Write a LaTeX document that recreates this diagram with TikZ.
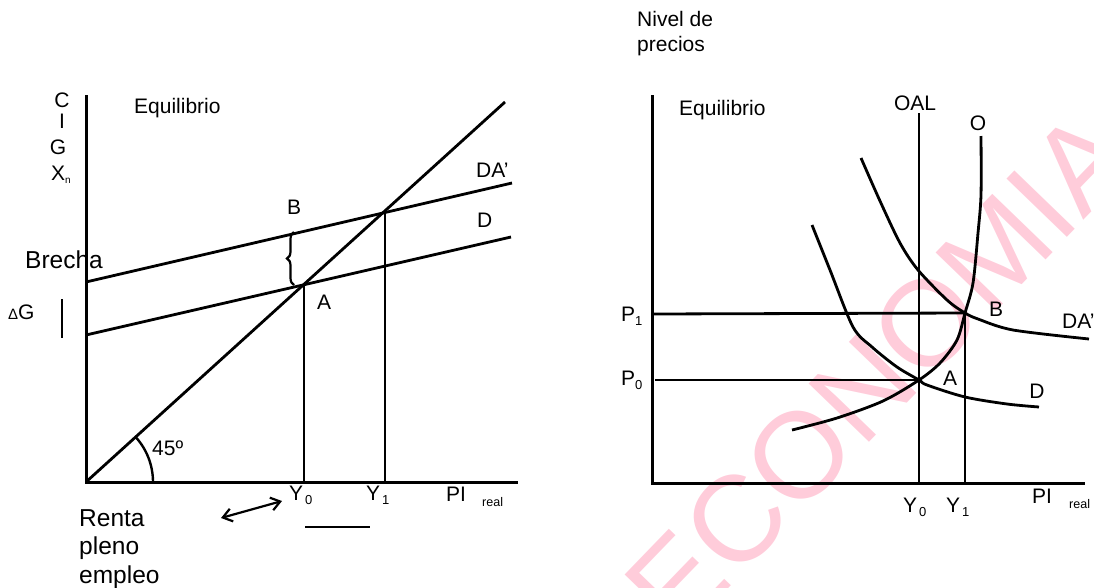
\documentclass[tikz,border=0pt]{standalone}
\usepackage{fontspec}
\setmainfont{Liberation Sans}
\usetikzlibrary{arrows.meta,decorations.pathreplacing}
\definecolor{wmpink}{RGB}{255,204,218}
\newcommand\sbx[1]{\raisebox{-0.35ex}{\fontsize{13}{13}\selectfont #1}}
\begin{document}
\begin{tikzpicture}[x=1pt,y=-1pt,
  ln/.style={line width=2.8pt},
  ax/.style={line width=3pt},
  crv/.style={line width=2.8pt, smooth, tension=0.5},
  lbl/.style={inner sep=0pt, font=\fontsize{21}{25}\selectfont},
  big/.style={inner sep=0pt, font=\fontsize{24.5}{28.5}\selectfont},
  sml/.style={inner sep=0pt, font=\fontsize{12.5}{14}\selectfont},
  wmtext/.style={inner sep=0pt, text=wmpink, rotate=46, font=\fontsize{122}{122}\selectfont}]
\useasboundingbox (0,0) rectangle (1094,587);
\begin{scope}
\clip (0,0) rectangle (1094,587);
\node[wmtext] (wm) at (879,372) {ECONOMIA};
\end{scope}

% ---------------- left diagram ----------------
\coordinate (O1) at (86,482);
\coordinate (ytop1) at (86,95);
\coordinate (xend1) at (518,482);
\coordinate (diagE) at (505,102);
\coordinate (DAs) at (86,282);
\coordinate (DAe) at (512,183);
\coordinate (Ds) at (86,335);
\coordinate (De) at (511,237);
\coordinate (A1) at (304,285);
\coordinate (B1) at (385,212);
\coordinate (Y0b) at (304,482);
\coordinate (Y1b) at (385,482);
\coordinate (brB) at (294,285);
\coordinate (brT) at (294,232);
\coordinate (dgT) at (62,299);
\coordinate (dgB) at (62,338);
\coordinate (arL) at (221,518);
\coordinate (arR) at (282,501);
\coordinate (ulL) at (305,527);
\coordinate (ulR) at (370,527);
\coordinate (arcS) at (153,482);

\draw[ax] (ytop1) -- (O1) -- (xend1);
\draw[ln] (O1) -- (diagE);
\draw[ln] (DAs) -- (DAe);
\draw[ln] (Ds) -- (De);
\draw[ln] (A1) -- (Y0b);
\draw[ln] (B1) -- (Y1b);
\draw[line width=2.2pt, decorate, decoration={brace, amplitude=7pt}] (brB) -- (brT);
\draw[ln] (dgT) -- (dgB);
\draw[line width=2.2pt, {Straight Barb[length=9pt,width=13pt]}-{Straight Barb[length=9pt,width=13pt]}] (arL) -- (arR);
\draw[ln] (ulL) -- (ulR);
\draw[line width=2.4pt] (arcS) arc[start angle=0, end angle=-42, radius=67];

\node[lbl] (lC) at (62,100) {C};
\node[lbl] (lI) at (62,121) {I};
\node[lbl] (lG) at (58,147) {G};
\node[lbl, anchor=west] (lX) at (51,175) {X\raisebox{-0.3ex}{\fontsize{10}{10}\selectfont n}};
\node[lbl, anchor=west] (eq1) at (134,108) {Equilibrio};
\node[lbl, anchor=west] (lDA1) at (476,170) {DA’};
\node[lbl, anchor=west] (lD1) at (477,220) {D};
\node[lbl] (lB1) at (294,207) {B};
\node[lbl] (lA1) at (324,302) {A};
\node[big, anchor=west] (brecha) at (25,260) {Brecha};
\node[lbl, anchor=west] (dG) at (8,312) {{\fontsize{15}{15}\selectfont Δ}G};
\node[lbl, anchor=west] (ang) at (152,448) {45º};
\node[lbl, anchor=west] (lY01) at (289,495) {Y\kern2pt\sbx{0}};
\node[lbl, anchor=west] (lY11) at (366,495) {Y\kern2pt\sbx{1}};
\node[lbl, anchor=west] (lPI1) at (446,494) {PI};
\node[sml, anchor=west] (lreal1) at (482,502) {real};
\node[big, anchor=west, align=left] (renta) at (79,549) {Renta\\pleno\\empleo};

% ---------------- right diagram ----------------
\coordinate (O2) at (652,483);
\coordinate (ytop2) at (652,95);
\coordinate (xend2) at (1085,483);
\coordinate (OALt) at (919,113);
\coordinate (OALb) at (919,483);
\coordinate (A2) at (919,380);
\coordinate (B2) at (965,313);
\coordinate (Y1b2) at (965,483);
\coordinate (P1s) at (652,314);
\coordinate (P0s) at (655,380);

\draw[ax] (ytop2) -- (O2) -- (xend2);
\draw[ln] (OALt) -- (OALb);
\draw[ln] (B2) -- (Y1b2);
\draw[ln] (P1s) -- (B2);
\draw[ln] (P0s) -- (A2);
% supply O
\draw[crv] plot coordinates {(792,430) (837,418) (883,401) (919,380) (940,363) (957,340) (965,313) (973,283) (978,233) (981,195) (981,136)};
% demand D
\draw[crv] plot coordinates {(812,225) (830,270) (853,327) (872,347) (897,367) (919,380) (927,385) (965,397) (1007,404) (1039,407)};
% demand DA'
\draw[crv] plot coordinates {(861,158) (880,201) (900,243) (918,270) (947,300) (965,313) (978,319) (1013,330) (1089,339)};

\node[lbl, anchor=west, align=left] (nivel) at (637,34) {Nivel de\\precios};
\node[lbl, anchor=west] (eq2) at (679,110) {Equilibrio};
\node[lbl] (lOAL) at (915,103) {OAL};
\node[lbl] (lO) at (978,123) {O};
\node[lbl, anchor=west] (lP1) at (621,316) {P\sbx{1}};
\node[lbl, anchor=west] (lP0) at (621,380) {P\sbx{0}};
\node[lbl] (lB2) at (996,309) {B};
\node[lbl, anchor=west] (lDA2) at (1062,321) {DA’};
\node[lbl] (lA2) at (950,378) {A};
\node[lbl] (lD2) at (1037,391) {D};
\node[lbl, anchor=west] (lY02) at (903,507) {Y\kern2pt\sbx{0}};
\node[lbl, anchor=west] (lY12) at (946,507) {Y\kern2pt\sbx{1}};
\node[lbl, anchor=west] (lPI2) at (1032,496) {PI};
\node[sml, anchor=west] (lreal2) at (1069,504) {real};
\end{tikzpicture}
\end{document}
